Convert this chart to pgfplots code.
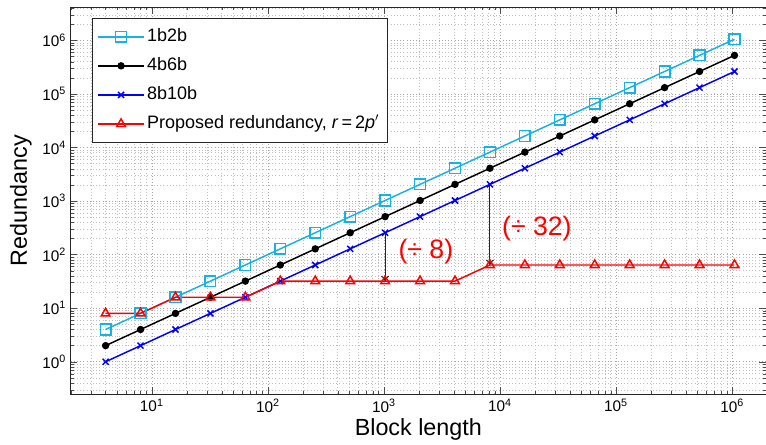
\documentclass[border=0pt]{standalone}
\usepackage{fontspec}
\setmainfont{Liberation Sans}
\usepackage{pgfplots}
\usepackage{pgfplotstable}
\pgfplotsset{compat=1.18}
\usetikzlibrary{arrows.meta}

\definecolor{ccyan}{RGB}{22,178,230}
\definecolor{cblue}{RGB}{0,0,255}
\definecolor{cred}{RGB}{255,0,0}

% block length, 1b2b, 4b6b, 8b10b, proposed
\pgfplotstableread{
n       a       b       c       p
4       4       2       1       8
8       8       4       2       8
16      16      8       4       16
32      32      16      8       16
64      64      32      16      16
128     128     64      32      32
256     256     128     64      32
512     512     256     128     32
1024    1024    512     256     32
2048    2048    1024    512     32
4096    4096    2048    1024    32
8192    8192    4096    2048    64
16384   16384   8192    4096    64
32768   32768   16384   8192    64
65536   65536   32768   16384   64
131072  131072  65536   32768   64
262144  262144  131072  65536   64
524288  524288  262144  131072  64
1048576 1048576 524288  262144  64
}\codes

\begin{document}
\begin{tikzpicture}
\begin{axis}[
  xmode=log, ymode=log,
  scale only axis,
  width=521.5pt, height=290.25pt,
  xmin=2, xmax=1.96e6,
  ymin=0.25, ymax=4194304,
  axis line style={black!85},
  tick style={black!70},
  major tick length=5pt,
  minor tick length=2.5pt,
  grid=both,
  major grid style={dotted, black!35},
  minor grid style={dotted, black!25},
  tick label style={font=\fontsize{11.5}{13}\selectfont},
  xticklabel={10\textsuperscript{\pgfmathparse{int(round(\tick/ln(10)))}\pgfmathresult}},
  yticklabel={10\textsuperscript{\pgfmathparse{int(round(\tick/ln(10)))}\pgfmathresult}},
  xlabel={Block length},
  ylabel={Redundancy},
  label style={font=\fontsize{17.5}{19}\selectfont},
  xlabel style={yshift=2pt},
  ylabel style={yshift=1pt},
  legend cell align=left,
  legend image code/.code={\draw[mark repeat=2,mark phase=2,#1] plot coordinates {(0pt,0pt) (17pt,0pt) (34pt,0pt)};},
  legend style={at={(0.0306,0.972)}, anchor=north west, draw=black!85, line width=0.6pt,
    font=\fontsize{13.5}{15}\selectfont, inner xsep=4pt, inner ysep=3pt, row sep=0pt,
    nodes={text height=10pt, text depth=3pt, inner ysep=4.4pt}},
]
\addplot[ccyan, line width=1.1pt, mark=square, mark size=4pt] table[x=n, y=a] {\codes};
\addlegendentry{1b2b}
\addplot[black, line width=1.1pt, mark=*, mark size=2.2pt] table[x=n, y=b] {\codes};
\addlegendentry{4b6b}
\addplot[cblue, line width=1.1pt, mark=x, mark size=3.2pt] table[x=n, y=c] {\codes};
\addlegendentry{8b10b}
\addplot[cred, line width=1.1pt, mark=triangle, mark size=3.8pt] table[x=n, y=p] {\codes};
\addlegendentry{Proposed redundancy, \textit{r}\,=\,2\textit{p}$'$}

\draw[black!85, line width=0.8pt, -{To[length=4pt,width=6pt]}] (axis cs:1024,256) -- (axis cs:1024,32);
\draw[black!85, line width=0.8pt, -{To[length=4pt,width=6pt]}] (axis cs:8192,2048) -- (axis cs:8192,64);
\node[cred, font=\fontsize{20}{22}\selectfont] at (axis cs:2300,113) {(÷ 8)};
\node[cred, font=\fontsize{20}{22}\selectfont] at (axis cs:20800,303) {(÷ 32)};
\end{axis}
\pgfresetboundingbox
\path ([xshift=-53pt,yshift=-37.5pt]current axis.south west) rectangle ([yshift=5.25pt]current axis.north east);
\end{tikzpicture}
\end{document}
